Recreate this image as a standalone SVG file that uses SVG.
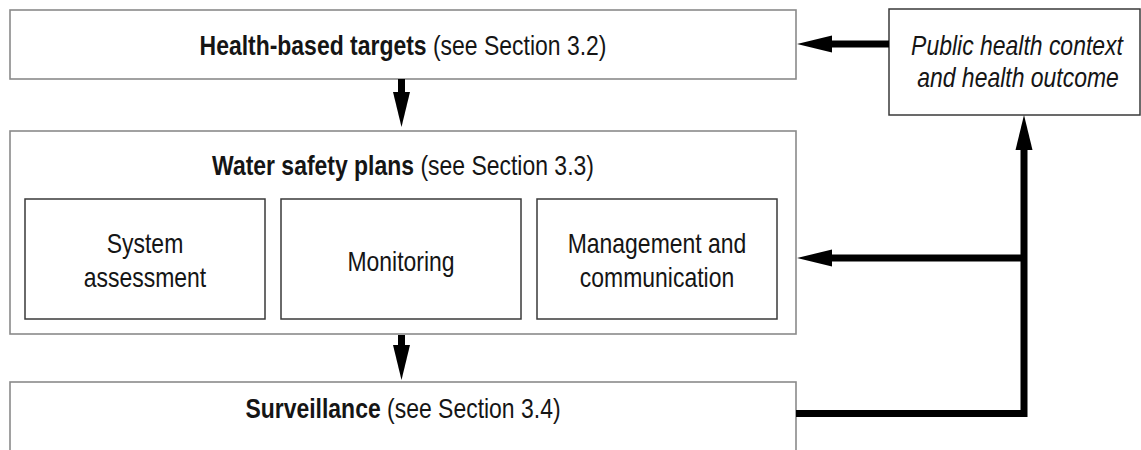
<svg xmlns="http://www.w3.org/2000/svg" width="1141" height="450" viewBox="0 0 1141 450">
  <defs>
    <style>
      .outer { fill: #ffffff; stroke: #8a8a8a; stroke-width: 1.6; }
      .inner { fill: #ffffff; stroke: #3a3a3a; stroke-width: 1.5; }
      .t { font-family: "Liberation Sans", Arial, sans-serif; font-size: 28px; fill: #151515; text-anchor: middle; }
      .b { font-weight: bold; }
      .i { font-style: italic; }
      .conn { fill: none; stroke: #000000; stroke-width: 7; stroke-linejoin: miter; }
    </style>
    <marker id="ah" markerUnits="userSpaceOnUse" markerWidth="36" markerHeight="18" refX="0" refY="8.5" orient="auto" overflow="visible">
      <path d="M0,0 L35,8.5 L0,17 Z" fill="#000000"/>
    </marker>
  </defs>
  <rect width="1141" height="450" fill="#ffffff"/>

  <g id="health-targets">
    <rect class="outer" x="10" y="10" width="786" height="69"/>
    <text class="t" transform="translate(403,55) scale(0.82,1)"><tspan class="b">Health-based targets</tspan> (see Section 3.2)</text>
  </g>

  <g id="public-health">
    <rect class="inner" x="889" y="9" width="251" height="106"/>
    <text class="t i" transform="translate(1017,55) scale(0.82,1)">Public health context</text>
    <text class="t i" transform="translate(1018,87) scale(0.82,1)">and health outcome</text>
  </g>

  <g id="water-safety-plans">
    <rect class="outer" x="10" y="131" width="786" height="203"/>
    <text class="t" transform="translate(403,175) scale(0.82,1)"><tspan class="b">Water safety plans</tspan> (see Section 3.3)</text>
  </g>

  <g id="system-assessment">
    <rect class="inner" x="25" y="199" width="240" height="120"/>
    <text class="t" transform="translate(145,253) scale(0.82,1)">System</text>
    <text class="t" transform="translate(145,287) scale(0.82,1)">assessment</text>
  </g>

  <g id="monitoring">
    <rect class="inner" x="281" y="199" width="240" height="120"/>
    <text class="t" transform="translate(401,271) scale(0.82,1)">Monitoring</text>
  </g>

  <g id="management">
    <rect class="inner" x="537" y="199" width="240" height="120"/>
    <text class="t" transform="translate(657,253) scale(0.82,1)">Management and</text>
    <text class="t" transform="translate(657,287) scale(0.82,1)">communication</text>
  </g>

  <g id="surveillance">
    <rect class="outer" x="10" y="382" width="786" height="80"/>
    <text class="t" transform="translate(403,418) scale(0.82,1)"><tspan class="b">Surveillance</tspan> (see Section 3.4)</text>
  </g>

  <g id="connectors">
    <path class="conn" d="M401.5,79 V92" marker-end="url(#ah)"/>
    <path class="conn" d="M401.5,335 V345" marker-end="url(#ah)"/>
    <path class="conn" d="M889,44 H832" marker-end="url(#ah)"/>
    <path class="conn" d="M796,413.5 H1024 V150" marker-end="url(#ah)"/>
    <path class="conn" d="M1024,258 H832" marker-end="url(#ah)"/>
  </g>
</svg>
